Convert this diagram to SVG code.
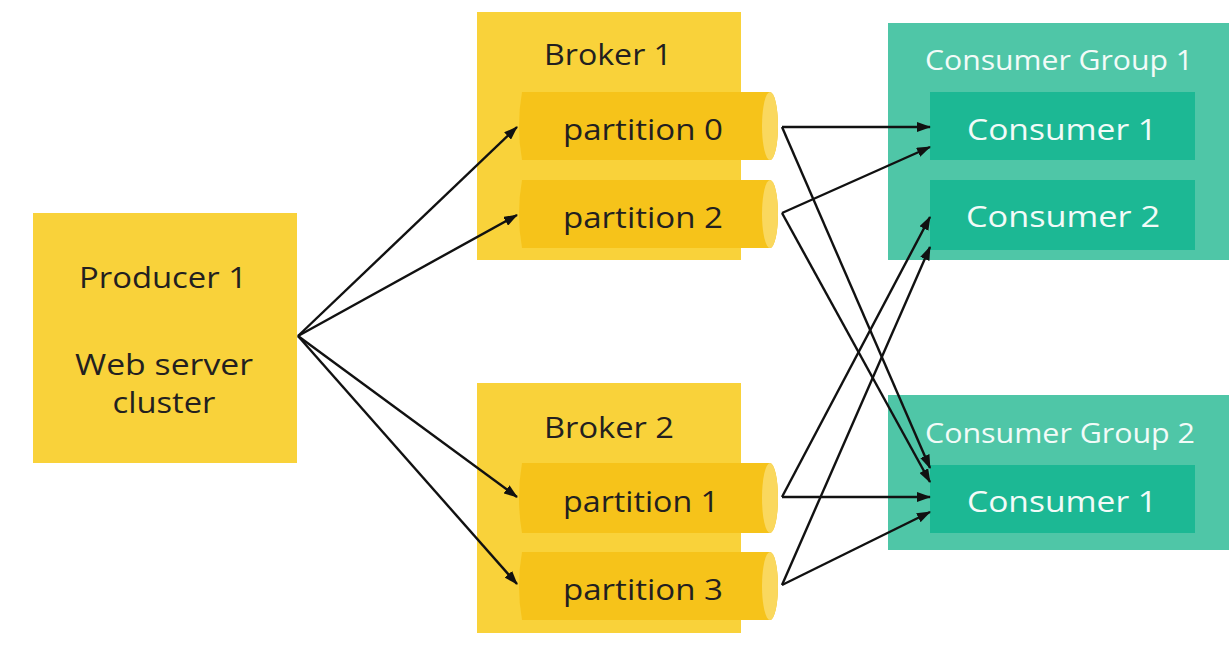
<svg xmlns="http://www.w3.org/2000/svg" width="1229" height="662" viewBox="0 0 1229 662">
  <defs>
    <marker id="arrow" viewBox="0 0 14 10" refX="13" refY="5" markerWidth="14" markerHeight="10" markerUnits="userSpaceOnUse" orient="auto">
      <path d="M0,0 L14,5 L0,10 Z" fill="#111"/>
    </marker>
  </defs>
  <style>
    .label { font-family: "Open Sans", "Noto Sans", sans-serif; fill: #231f20; text-anchor: middle; font-size: 29px; }
    .light { font-family: "Open Sans", "Noto Sans", sans-serif; fill: #f2fbf8; text-anchor: middle; font-size: 29px; }
    .title { font-size: 27px; }
    .yellow { fill: #f9d23a; }
    .part { fill: #f6c31a; }
    .cap { fill: #fad85e; }
    .group { fill: #4fc6a7; }
    .consumer { fill: #1cb894; }
    .edge { stroke: #111; stroke-width: 2.4; fill: none; marker-end: url(#arrow); }
  </style>
  <rect width="1229" height="662" fill="#ffffff"/>

  <!-- producer -->
  <g id="producer1">
    <rect class="yellow" x="33" y="213" width="264" height="250"/>
    <text class="label" x="163" y="288" textLength="168" lengthAdjust="spacingAndGlyphs">Producer 1</text>
    <text class="label" x="164" y="375" textLength="178" lengthAdjust="spacingAndGlyphs">Web server</text>
    <text class="label" x="164" y="413" textLength="103" lengthAdjust="spacingAndGlyphs">cluster</text>
  </g>

  <!-- broker 1 -->
  <g id="broker1">
    <rect class="yellow" x="477" y="12" width="264" height="248"/>
    <text class="label" x="608" y="65" textLength="128" lengthAdjust="spacingAndGlyphs">Broker 1</text>
  </g>
  <g id="partition0">
    <path class="part" d="M522,92 H770 A8,34 0 0 1 770,160 H522 Q516,126 522,92 Z"/>
    <ellipse class="cap" cx="770" cy="126" rx="8" ry="34"/>
    <text class="label" x="643" y="140" textLength="160" lengthAdjust="spacingAndGlyphs">partition 0</text>
  </g>
  <g id="partition2">
    <path class="part" d="M522,180 H770 A8,34 0 0 1 770,248 H522 Q516,214 522,180 Z"/>
    <ellipse class="cap" cx="770" cy="214" rx="8" ry="34"/>
    <text class="label" x="643" y="228" textLength="160" lengthAdjust="spacingAndGlyphs">partition 2</text>
  </g>

  <!-- broker 2 -->
  <g id="broker2">
    <rect class="yellow" x="477" y="383" width="264" height="250"/>
    <text class="label" x="609" y="438" textLength="130" lengthAdjust="spacingAndGlyphs">Broker 2</text>
  </g>
  <g id="partition1">
    <path class="part" d="M522,463 H770 A8,35 0 0 1 770,533 H522 Q516,498 522,463 Z"/>
    <ellipse class="cap" cx="770" cy="498" rx="8" ry="35"/>
    <text class="label" x="641" y="512" textLength="156" lengthAdjust="spacingAndGlyphs">partition 1</text>
  </g>
  <g id="partition3">
    <path class="part" d="M522,552 H770 A8,34 0 0 1 770,620 H522 Q516,586 522,552 Z"/>
    <ellipse class="cap" cx="770" cy="586" rx="8" ry="34"/>
    <text class="label" x="643" y="600" textLength="160" lengthAdjust="spacingAndGlyphs">partition 3</text>
  </g>

  <!-- consumer group 1 -->
  <g id="consumerGroup1">
    <rect class="group" x="888" y="23" width="341" height="237"/>
    <text class="light title" x="1059" y="70" textLength="268" lengthAdjust="spacingAndGlyphs">Consumer Group 1</text>
  </g>
  <g id="cg1consumer1">
    <rect class="consumer" x="930" y="92" width="265" height="68"/>
    <text class="light" x="1062" y="140" textLength="190" lengthAdjust="spacingAndGlyphs">Consumer 1</text>
  </g>
  <g id="cg1consumer2">
    <rect class="consumer" x="930" y="180" width="265" height="70"/>
    <text class="light" x="1063" y="227" textLength="194" lengthAdjust="spacingAndGlyphs">Consumer 2</text>
  </g>

  <!-- consumer group 2 -->
  <g id="consumerGroup2">
    <rect class="group" x="888" y="395" width="341" height="155"/>
    <text class="light title" x="1060" y="443" textLength="270" lengthAdjust="spacingAndGlyphs">Consumer Group 2</text>
  </g>
  <g id="cg2consumer1">
    <rect class="consumer" x="930" y="465" width="265" height="68"/>
    <text class="light" x="1062" y="512" textLength="190" lengthAdjust="spacingAndGlyphs">Consumer 1</text>
  </g>

  <!-- connectors -->
  <g id="connectors">
    <line class="edge" x1="298" y1="336" x2="517" y2="127"/>
    <line class="edge" x1="298" y1="336" x2="517" y2="215"/>
    <line class="edge" x1="298" y1="336" x2="517" y2="497"/>
    <line class="edge" x1="298" y1="336" x2="517" y2="584"/>

    <line class="edge" x1="782" y1="127" x2="930" y2="127"/>
    <line class="edge" x1="782" y1="127" x2="930" y2="468"/>
    <line class="edge" x1="782" y1="213" x2="930" y2="147"/>
    <line class="edge" x1="782" y1="213" x2="930" y2="482"/>
    <line class="edge" x1="782" y1="497" x2="930" y2="217"/>
    <line class="edge" x1="782" y1="497" x2="930" y2="497"/>
    <line class="edge" x1="782" y1="585" x2="930" y2="247"/>
    <line class="edge" x1="782" y1="585" x2="930" y2="512"/>
  </g>
</svg>
